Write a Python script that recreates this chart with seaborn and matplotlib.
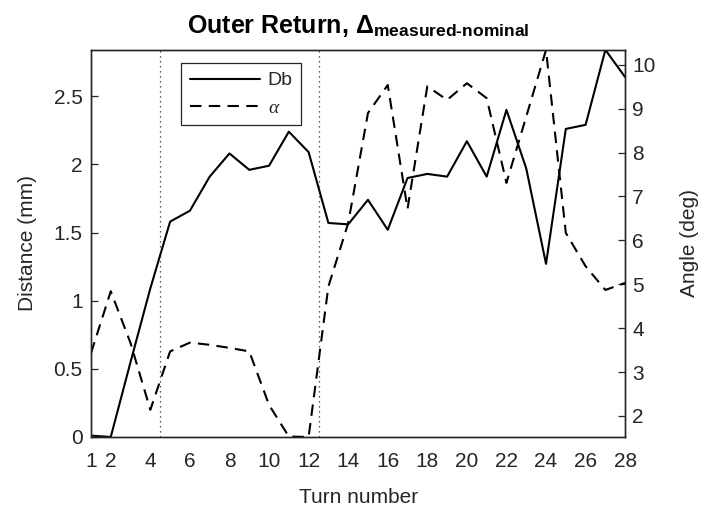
import matplotlib
matplotlib.use("Agg")
import matplotlib.pyplot as plt
import seaborn as sns
import numpy as np

turns = list(range(1, 29))
db = [0.01, 0.0, 0.55, 1.09, 1.58, 1.66, 1.91, 2.08, 1.96, 1.99, 2.24, 2.09, 1.57, 1.56,
      1.74, 1.52, 1.90, 1.93, 1.91, 2.17, 1.91, 2.40, 1.97, 1.27, 2.26, 2.29, 2.84, 2.64]
alpha = [3.43, 4.84, 3.66, 2.14, 3.47, 3.67, 3.62, 3.55, 3.47, 2.25, 1.53, 1.52, 4.95, 6.39,
         8.90, 9.54, 6.72, 9.51, 9.20, 9.58, 9.24, 7.31, 8.82, 10.34, 6.17, 5.41, 4.87, 5.03]
xticks = [1, 2, 4, 6, 8, 10, 12, 14, 16, 18, 20, 22, 24, 26, 28]
left_ticks = [0, 0.5, 1, 1.5, 2, 2.5]
left_labels = ["0", "0.5", "1", "1.5", "2", "2.5"]
right_ticks = [2, 3, 4, 5, 6, 7, 8, 9, 10]
markers_x = [4.5, 12.5]

sns.set_style("white")
plt.rcParams['font.family'] = ['Liberation Sans', 'DejaVu Sans']
plt.rcParams['mathtext.fontset'] = 'custom'
plt.rcParams['mathtext.rm'] = 'Liberation Sans:bold'
plt.rcParams['mathtext.bf'] = 'Liberation Sans:bold'
plt.rcParams['mathtext.it'] = 'Liberation Serif:italic'
plt.rcParams['mathtext.sf'] = 'Liberation Sans'

gray = '#262626'
fig = plt.figure(figsize=(7.08, 5.09), dpi=100)
ax = fig.add_axes([0.1285, 0.1415, 0.7545, 0.7605])

sns.lineplot(x=turns, y=db, ax=ax, color='black', linewidth=1.5, label='Db', legend=False)
for xv in markers_x:
    ax.axvline(xv, color=gray, linestyle=(0, (1, 3)), linewidth=0.9)

ax2 = ax.twinx()
sns.lineplot(x=turns, y=alpha, ax=ax2, color='black', linewidth=1.5, label=r'$\alpha$', legend=False)
ax2.lines[0].set_dashes([5.5, 3.5])

ax.set_xlim(1, 28)
ax.set_ylim(0, 2.84)
ax2.set_ylim(1.52, 10.34)
ax.set_xticks(xticks)
ax.set_xticklabels([str(t) for t in xticks])
ax.set_yticks(left_ticks)
ax.set_yticklabels(left_labels)
ax2.set_yticks(right_ticks)
ax2.set_yticklabels([str(t) for t in right_ticks])

for a in (ax, ax2):
    for s in a.spines.values():
        s.set_color(gray)
        s.set_linewidth(1.0)
        s.set_visible(True)
    a.tick_params(direction='in', length=5, width=0.9, color=gray, labelcolor=gray, labelsize=15)
ax.tick_params(axis='x', pad=11)
ax.tick_params(axis='y', left=True, right=False, pad=6)
ax2.tick_params(axis='y', right=True, left=False, pad=5)

ax.set_xlabel('Turn number', fontsize=15, color=gray, labelpad=12)
ax.set_ylabel('Distance (mm)', fontsize=15, color=gray, labelpad=12)
ax2.set_ylabel('Angle (deg)', fontsize=15, color=gray, labelpad=18)

ax.set_title(r'Outer Return, $\Delta_{\text{measured-nominal}}$', fontsize=18, fontweight='bold',
             color='black', pad=12)

h1, l1 = ax.get_legend_handles_labels()
h2, l2 = ax2.get_legend_handles_labels()
leg = ax2.legend(h1 + h2, l1 + l2, loc='upper left', bbox_to_anchor=(0.1685, 0.966),
                 borderaxespad=0, fontsize=14, handlelength=3.6, fancybox=False, framealpha=1,
                 edgecolor=gray, borderpad=0.45, labelspacing=0.5, handletextpad=0.4)
leg.get_frame().set_linewidth(0.9)

fig.savefig('out.png', dpi=100)
